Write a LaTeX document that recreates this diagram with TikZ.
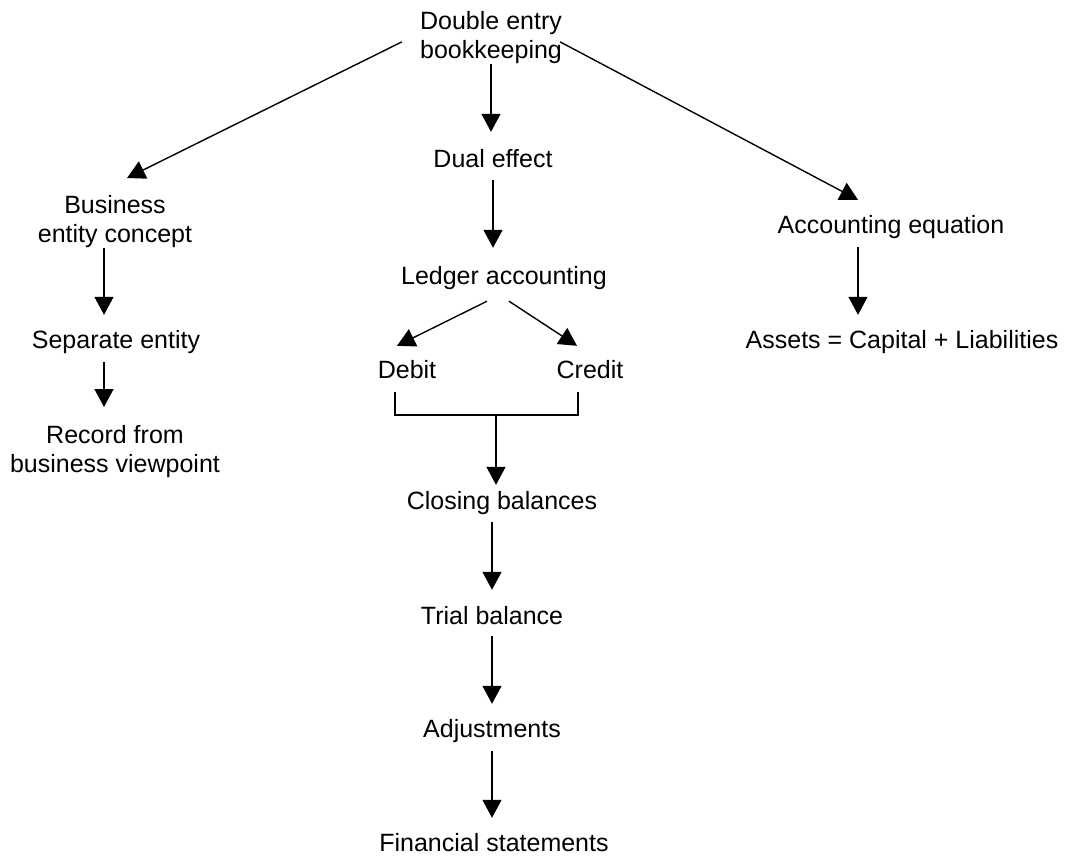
\documentclass[tikz,border=0pt]{standalone}
\usepackage{fontspec}
\setmainfont{Liberation Sans}
\usetikzlibrary{arrows.meta}
\begin{document}
\begin{tikzpicture}[x=1pt,y=-1pt,
  every node/.style={font=\fontsize{25}{29}\selectfont, inner sep=0pt},
  lbl/.style={anchor=base, text height=18pt, text depth=5pt},
  stack/.style={anchor=north, align=center},
  arr/.style={-{Triangle[length=18pt,width=19pt]}, line width=1.4pt},
  link/.style={line width=1.4pt}]
\useasboundingbox (0,0) rectangle (1066,855);

% concepts
\node[stack] (top)    at (491,11)  {Double entry\\bookkeeping};
\node[lbl]   (dual)   at (493,167) {Dual effect};
\node[lbl]   (ledger) at (504,284) {Ledger accounting};
\node[lbl]   (debit)  at (407,378) {Debit};
\node[lbl]   (credit) at (590,378) {Credit};
\node[lbl]   (closing) at (502,509) {Closing balances};
\node[lbl]   (trial)  at (492,624) {Trial balance};
\node[lbl]   (adj)    at (492,737) {Adjustments};
\node[lbl]   (fin)    at (494,851) {Financial statements};

\node[stack] (biz)    at (115,195) {Business\\entity concept};
\node[lbl]   (sep)    at (116,348) {Separate entity};
\node[stack] (rec)    at (115,425) {Record from\\business viewpoint};

\node[lbl]   (acct)   at (891,233) {Accounting equation};
\node[lbl]   (assets) at (902,348) {Assets = Capital + Liabilities};

% main column
\draw[arr, shorten >=17pt] (top.south) -- (top.south |- dual.north);
\draw[arr, shorten <=8pt, shorten >=18pt] (dual.south) -- (dual.south |- ledger.north);
\draw[arr] ([xshift=-17pt,yshift=-12pt]ledger.south) -- ([xshift=-10pt,yshift=14pt]debit.north);
\draw[arr] ([xshift=5pt,yshift=-12pt]ledger.south) -- ([xshift=-13pt,yshift=14pt]credit.north);

% debit and credit joined into one flow
\coordinate (join) at (496,415);
\draw[link] ([xshift=-12pt,yshift=-9pt]debit.south) |- (join)
            -| ([xshift=-12pt,yshift=-9pt]credit.south);
\draw[arr] (join) -- ([xshift=-6pt,yshift=6pt]closing.north);

\draw[arr, shorten <=8pt, shorten >=16pt] (trial.north |- closing.south) -- (trial.north);
\draw[arr, shorten <=7pt, shorten >=15pt] (trial.south) -- (adj.north);
\draw[arr, shorten <=9pt, shorten >=15pt] (adj.south) -- (adj.south |- fin.north);

% left branch
\draw[arr] ([xshift=-18pt,yshift=-4.5pt]top.west) -- ([xshift=12pt,yshift=17pt]biz.north);
\draw[arr, shorten >=15pt] ([xshift=-11pt]biz.south) -- ([xshift=-12pt]sep.north);
\draw[arr, shorten <=9pt, shorten >=18pt] ([xshift=-12pt]sep.south) -- ([xshift=-11pt]rec.north);

% right branch
\draw[arr] ([xshift=-2pt,yshift=-4.5pt]top.east) -- ([xshift=-33pt,yshift=15pt]acct.north);
\draw[arr, shorten <=9pt, shorten >=15pt] ([xshift=-33pt]acct.south) -- ([xshift=-44pt]assets.north);
\end{tikzpicture}
\end{document}
